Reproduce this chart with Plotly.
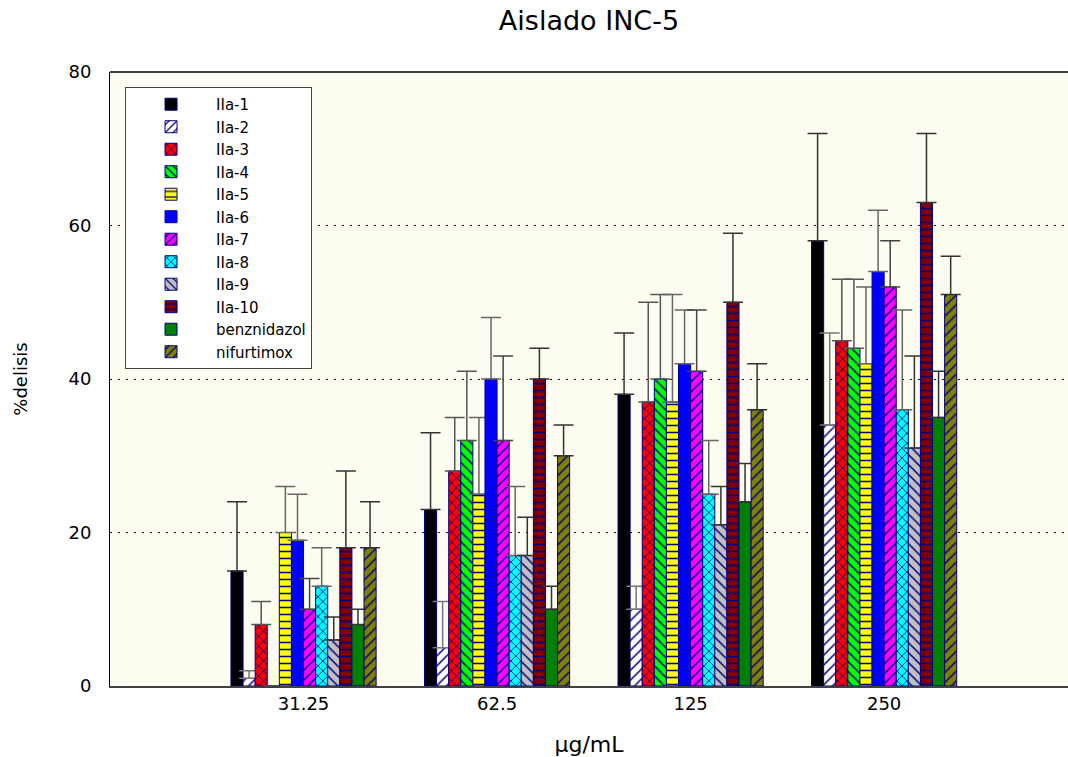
import plotly.graph_objects as go

# Concentrations (x categories)
concentrations = ["31.25", "62.5", "125", "250"]

# Series names
series_names = ["IIa-1", "IIa-2", "IIa-3", "IIa-4", "IIa-5", "IIa-6",
                "IIa-7", "IIa-8", "IIa-9", "IIa-10", "benznidazol", "nifurtimox"]

# % lysis per compound at each concentration
iia_1 = [15, 23, 38, 58]
iia_2 = [1, 5, 10, 34]
iia_3 = [8, 28, 37, 45]
iia_4 = [0, 32, 40, 44]
iia_5 = [20, 25, 37, 42]
iia_6 = [19, 40, 42, 54]
iia_7 = [10, 32, 41, 52]
iia_8 = [13, 17, 25, 36]
iia_9 = [6, 17, 21, 31]
iia_10 = [18, 40, 50, 63]
benznidazol = [8, 10, 24, 35]
nifurtimox = [18, 30, 36, 51]

# Upper error (standard deviation)
err_1 = [9, 10, 8, 14]
err_2 = [1, 6, 3, 12]
err_3 = [3, 7, 13, 8]
err_4 = [0, 9, 11, 9]
err_5 = [6, 10, 14, 10]
err_6 = [6, 8, 7, 8]
err_7 = [4, 11, 8, 6]
err_8 = [5, 9, 7, 13]
err_9 = [3, 5, 5, 12]
err_10 = [10, 4, 9, 9]
err_benz = [2, 3, 5, 6]
err_nif = [6, 4, 6, 5]

values = [iia_1, iia_2, iia_3, iia_4, iia_5, iia_6, iia_7, iia_8, iia_9,
          iia_10, benznidazol, nifurtimox]
errors = [err_1, err_2, err_3, err_4, err_5, err_6, err_7, err_8, err_9,
          err_10, err_benz, err_nif]

# Fill colour and hatch style of each series
fills = ["#000000", "#FFFFFF", "#FF0000", "#00FF00", "#FFFF00", "#0000FF",
         "#FF00FF", "#00FFFF", "#C0C0C0", "#800000", "#008000", "#808000"]
hatches = ["", "/", "x", "\\", "-", "", "/", "x", "\\", "-", "", "/"]
err_colors = ["#333333", "#777777", "#555555", "#555555", "#666666", "#666666",
              "#444444", "#666666", "#333333", "#333333", "#333333", "#333333"]

NAVY = "#000080"
FONT = "DejaVu Sans, Verdana, sans-serif"

fig = go.Figure()
for name, vals, errs, col, hatch, ecol in zip(series_names, values, errors,
                                              fills, hatches, err_colors):
    pattern = dict(shape=hatch, fgcolor=NAVY, bgcolor=col, size=7,
                   solidity=0.22, fillmode="replace") if hatch else dict(shape="")
    show_err = [e if v > 0 else 0 for v, e in zip(vals, errs)]
    fig.add_trace(go.Bar(
        x=concentrations, y=vals, name=name,
        marker=dict(color=col, pattern=pattern,
                    line=dict(color=NAVY, width=1)),
        error_y=dict(type="data", symmetric=False, array=show_err,
                     arrayminus=[0] * len(vals), color=ecol,
                     thickness=1.5, width=10, visible=True),
    ))

fig.update_layout(
    width=1068, height=757,
    margin=dict(l=110, r=0, t=72, b=71),
    paper_bgcolor="#FFFFFF",
    plot_bgcolor="#FCFDF0",
    barmode="group",
    bargap=0.25,
    bargroupgap=0,
    font=dict(family=FONT, color="#000000"),
    title=dict(text="Aislado INC-5", x=0.5, xref="paper", y=0.973,
               yanchor="middle", font=dict(size=27, family=FONT)),
    showlegend=True,
    legend=dict(x=0.0157, y=0.9756, xanchor="left", yanchor="top",
                bgcolor="#FFFFFF", bordercolor="#444444", borderwidth=1,
                font=dict(size=15, family=FONT), traceorder="normal",
                itemwidth=80, tracegroupgap=0),
    xaxis=dict(
        type="category", range=[-1.0, 3.95],
        showline=True, linecolor="#404040", linewidth=2,
        ticks="", tickfont=dict(size=18),
        title=dict(text="µg/mL", font=dict(size=22), standoff=24),
        showgrid=False, zeroline=False,
    ),
    yaxis=dict(
        range=[0, 80], tickvals=[0, 20, 40, 60, 80],
        showline=True, linecolor="#000000", linewidth=1,
        ticks="outside", ticklen=14, tickcolor="rgba(0,0,0,0)",
        tickfont=dict(size=18),
        showgrid=True, gridcolor="#000000", gridwidth=1, griddash="2px,6px",
        zeroline=False,
        title=dict(text="%delisis", font=dict(size=18), standoff=36),
    ),
)

# Top frame line of the plotting area
fig.add_shape(type="line", xref="paper", yref="paper", x0=0, x1=1, y0=1, y1=1,
              line=dict(color="#000000", width=1.5))

fig.write_html("out.html")
